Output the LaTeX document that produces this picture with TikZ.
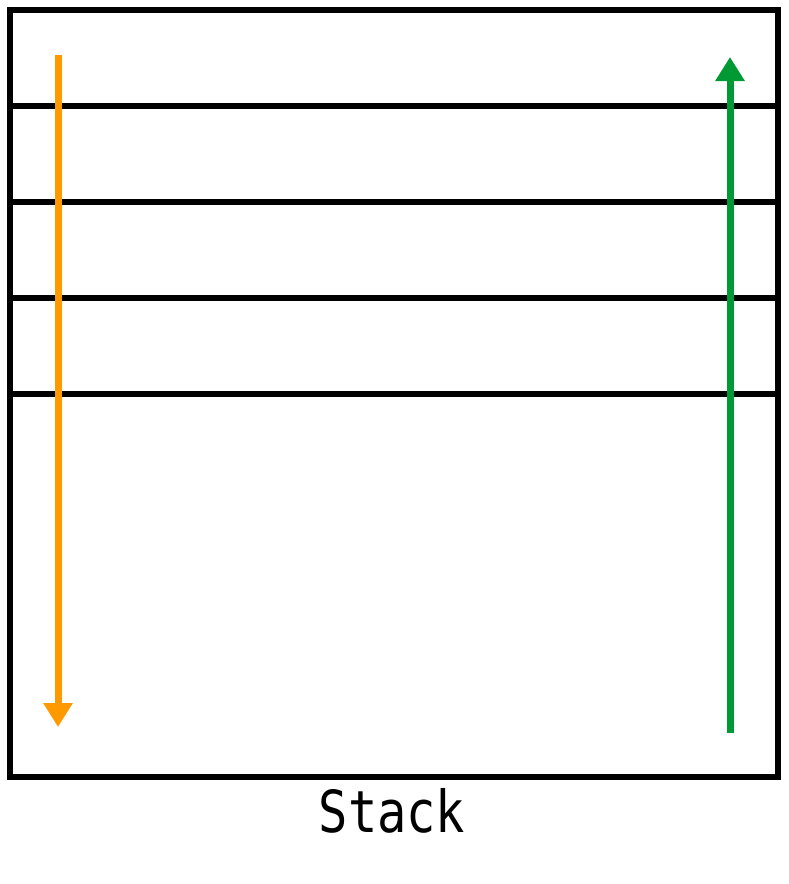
\documentclass[tikz,border=0pt]{standalone}
\usepackage{fontspec}
\newfontfamily\stackfont[FakeStretch=0.84]{DejaVu Sans Mono}
\usetikzlibrary{arrows.meta}
\definecolor{pushorange}{RGB}{255,153,0}
\definecolor{popgreen}{RGB}{0,153,51}

\begin{document}
\begin{tikzpicture}[x=1pt, y=-1pt,
          frame/.style={line width=6.5pt},
          arrow/.style={line width=7pt, -{Triangle[width=28pt,length=24pt]}}
        ]
          \useasboundingbox (0,0) rectangle (788,884);

          % stack frame
          \draw[frame] (10,10) rectangle (778,777);

          % slots
          \foreach \y in {106,202,298,394}
            \draw[frame] (10,\y) -- (778,\y);

          % arrow ends
          \coordinate (pushtop) at (58,55);
          \coordinate (pushend) at (58,727);
          \coordinate (popstart) at (730,733);
          \coordinate (poptop) at (730,57);

          % push and pop arrows
          \draw[arrow, pushorange] (pushtop) -- (pushend);
          \draw[arrow, popgreen] (popstart) -- (poptop);

          % label
          \node[font=\stackfont\fontsize{58}{60}\selectfont, anchor=base] (label) at (392,832) {Stack};
\end{tikzpicture}
\end{document}
